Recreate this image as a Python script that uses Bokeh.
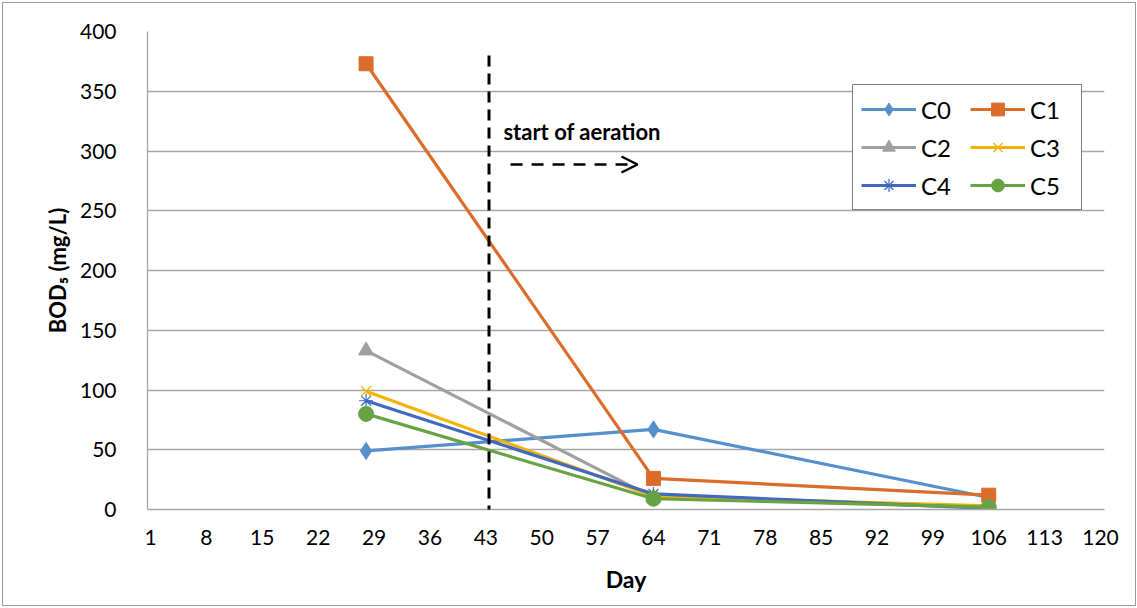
from bokeh.embed import file_html
from bokeh.models import (Arrow, FixedTicker, InlineStyleSheet, Label, Legend,
                          LegendItem, OpenHead, Range1d)
from bokeh.plotting import figure
from bokeh.resources import INLINE

# Sampling days and BOD5 readings (mg/L) per column
days = [28, 64, 106]
c0 = [49, 67, 10]
c1 = [373, 26, 12]
c2 = [133, 10, 2]
c3 = [99, 11, 3]
c4 = [91, 13, 1]
c5 = [80, 9, 2]

series_names = ["C0", "C1", "C2", "C3", "C4", "C5"]
x_ticks = [1, 8, 15, 22, 29, 36, 43, 50, 57, 64, 71, 78, 85, 92, 99, 106, 113, 120]
y_ticks = [0, 50, 100, 150, 200, 250, 300, 350, 400]
aeration_day = 43.4

FONT = "Lato"

p = figure(
    width=1137, height=608,
    output_backend="svg", toolbar_location=None,
    x_range=Range1d(0.62, 120.5), y_range=Range1d(0, 400),
    min_border_left=147, min_border_right=33,
    min_border_top=31, min_border_bottom=99,
)
p.outline_line_color = None
p.background_fill_color = "white"
p.border_fill_color = "white"
# thin grey frame around the whole chart
p.stylesheets = [InlineStyleSheet(css="""
:host { position: relative; }
:host::after {
  content: ""; position: absolute; left: 2px; top: 2px; right: 1px; bottom: 2px;
  border: 1px solid #9a9a9a; pointer-events: none; z-index: 10;
}
""")]

# Axes
p.xaxis.ticker = FixedTicker(ticks=x_ticks)
p.yaxis.ticker = FixedTicker(ticks=y_ticks)
for ax in (p.xaxis[0], p.yaxis[0]):
    ax.axis_line_color = "#a6a6a6"
    ax.axis_line_width = 1.3
    ax.major_tick_line_color = None
    ax.minor_tick_line_color = None
    ax.major_label_text_font = FONT
    ax.major_label_text_font_size = "21px"
    ax.major_label_text_color = "black"
    ax.axis_label_text_font = FONT
    ax.axis_label_text_font_style = "bold"
    ax.axis_label_text_color = "black"

p.xaxis.major_label_standoff = 14
p.xaxis.axis_label = "Day"
p.xaxis.axis_label_text_font_size = "23px"
p.xaxis.axis_label_standoff = 17

p.yaxis.major_label_standoff = 25
p.yaxis.axis_label = "BOD\u2085 (mg/L)"
p.yaxis.axis_label_text_font_size = "22px"
p.yaxis.axis_label_standoff = 6

p.xgrid.grid_line_color = None
p.ygrid.grid_line_color = "#a6a6a6"
p.ygrid.grid_line_width = 1.3

# Series
colors = ["#5590cc", "#dc6c2a", "#a0a0a0", "#f2b400", "#4169c0", "#67a343"]
markers = ["diamond", "square", "triangle", "x", "asterisk", "circle"]
sizes = [17, 14, 15, 14, 14, 15]
values = [c0, c1, c2, c3, c4, c5]

items = {}
for name, vals, col, mk, sz in zip(series_names, values, colors, markers, sizes):
    ln = p.line(days, vals, line_color=col, line_width=3.2)
    if mk in ("x", "asterisk"):
        sc = p.scatter(days, vals, marker=mk, size=sz, line_color=col,
                       line_width=1.2, fill_color=None)
    else:
        sc = p.scatter(days, vals, marker=mk, size=sz, line_color=col,
                       fill_color=col, line_width=1)
    items[name] = LegendItem(label=name, renderers=[ln, sc])

# two columns, read across the rows: C0 C1 / C2 C3 / C4 C5
legend_order = ["C0", "C2", "C4", "C1", "C3", "C5"]
legend = Legend(
    items=[items[n] for n in legend_order], ncols=2, location=(705, 299),
    label_text_font=FONT, label_text_font_size="24px", label_text_color="black",
    glyph_width=55, glyph_height=32, label_height=32, label_width=43,
    label_standoff=5, spacing=6, padding=8, margin=0,
    border_line_color="black", border_line_width=1.5,
    background_fill_color="white", background_fill_alpha=1.0,
)
p.add_layout(legend)

# Aeration marker: vertical dashed line and arrow
p.add_layout(Arrow(
    start=None, end=None,
    x_start=aeration_day, y_start=380, x_end=aeration_day, y_end=-15,
    line_color="black", line_width=3, line_dash="11 7",
))
p.add_layout(Arrow(
    end=OpenHead(size=16, line_width=2.5, line_color="black"),
    x_start=46.1, y_start=288.7, x_end=62.0, y_end=288.7,
    line_color="black", line_width=2.5, line_dash="12 9",
))
p.add_layout(Label(
    x=45.2, y=316, text="start of aeration",
    text_font=FONT, text_font_style="bold", text_font_size="22px",
    text_baseline="middle", text_align="left", text_color="black",
))

open("out.html", "w").write(file_html(p, INLINE))
